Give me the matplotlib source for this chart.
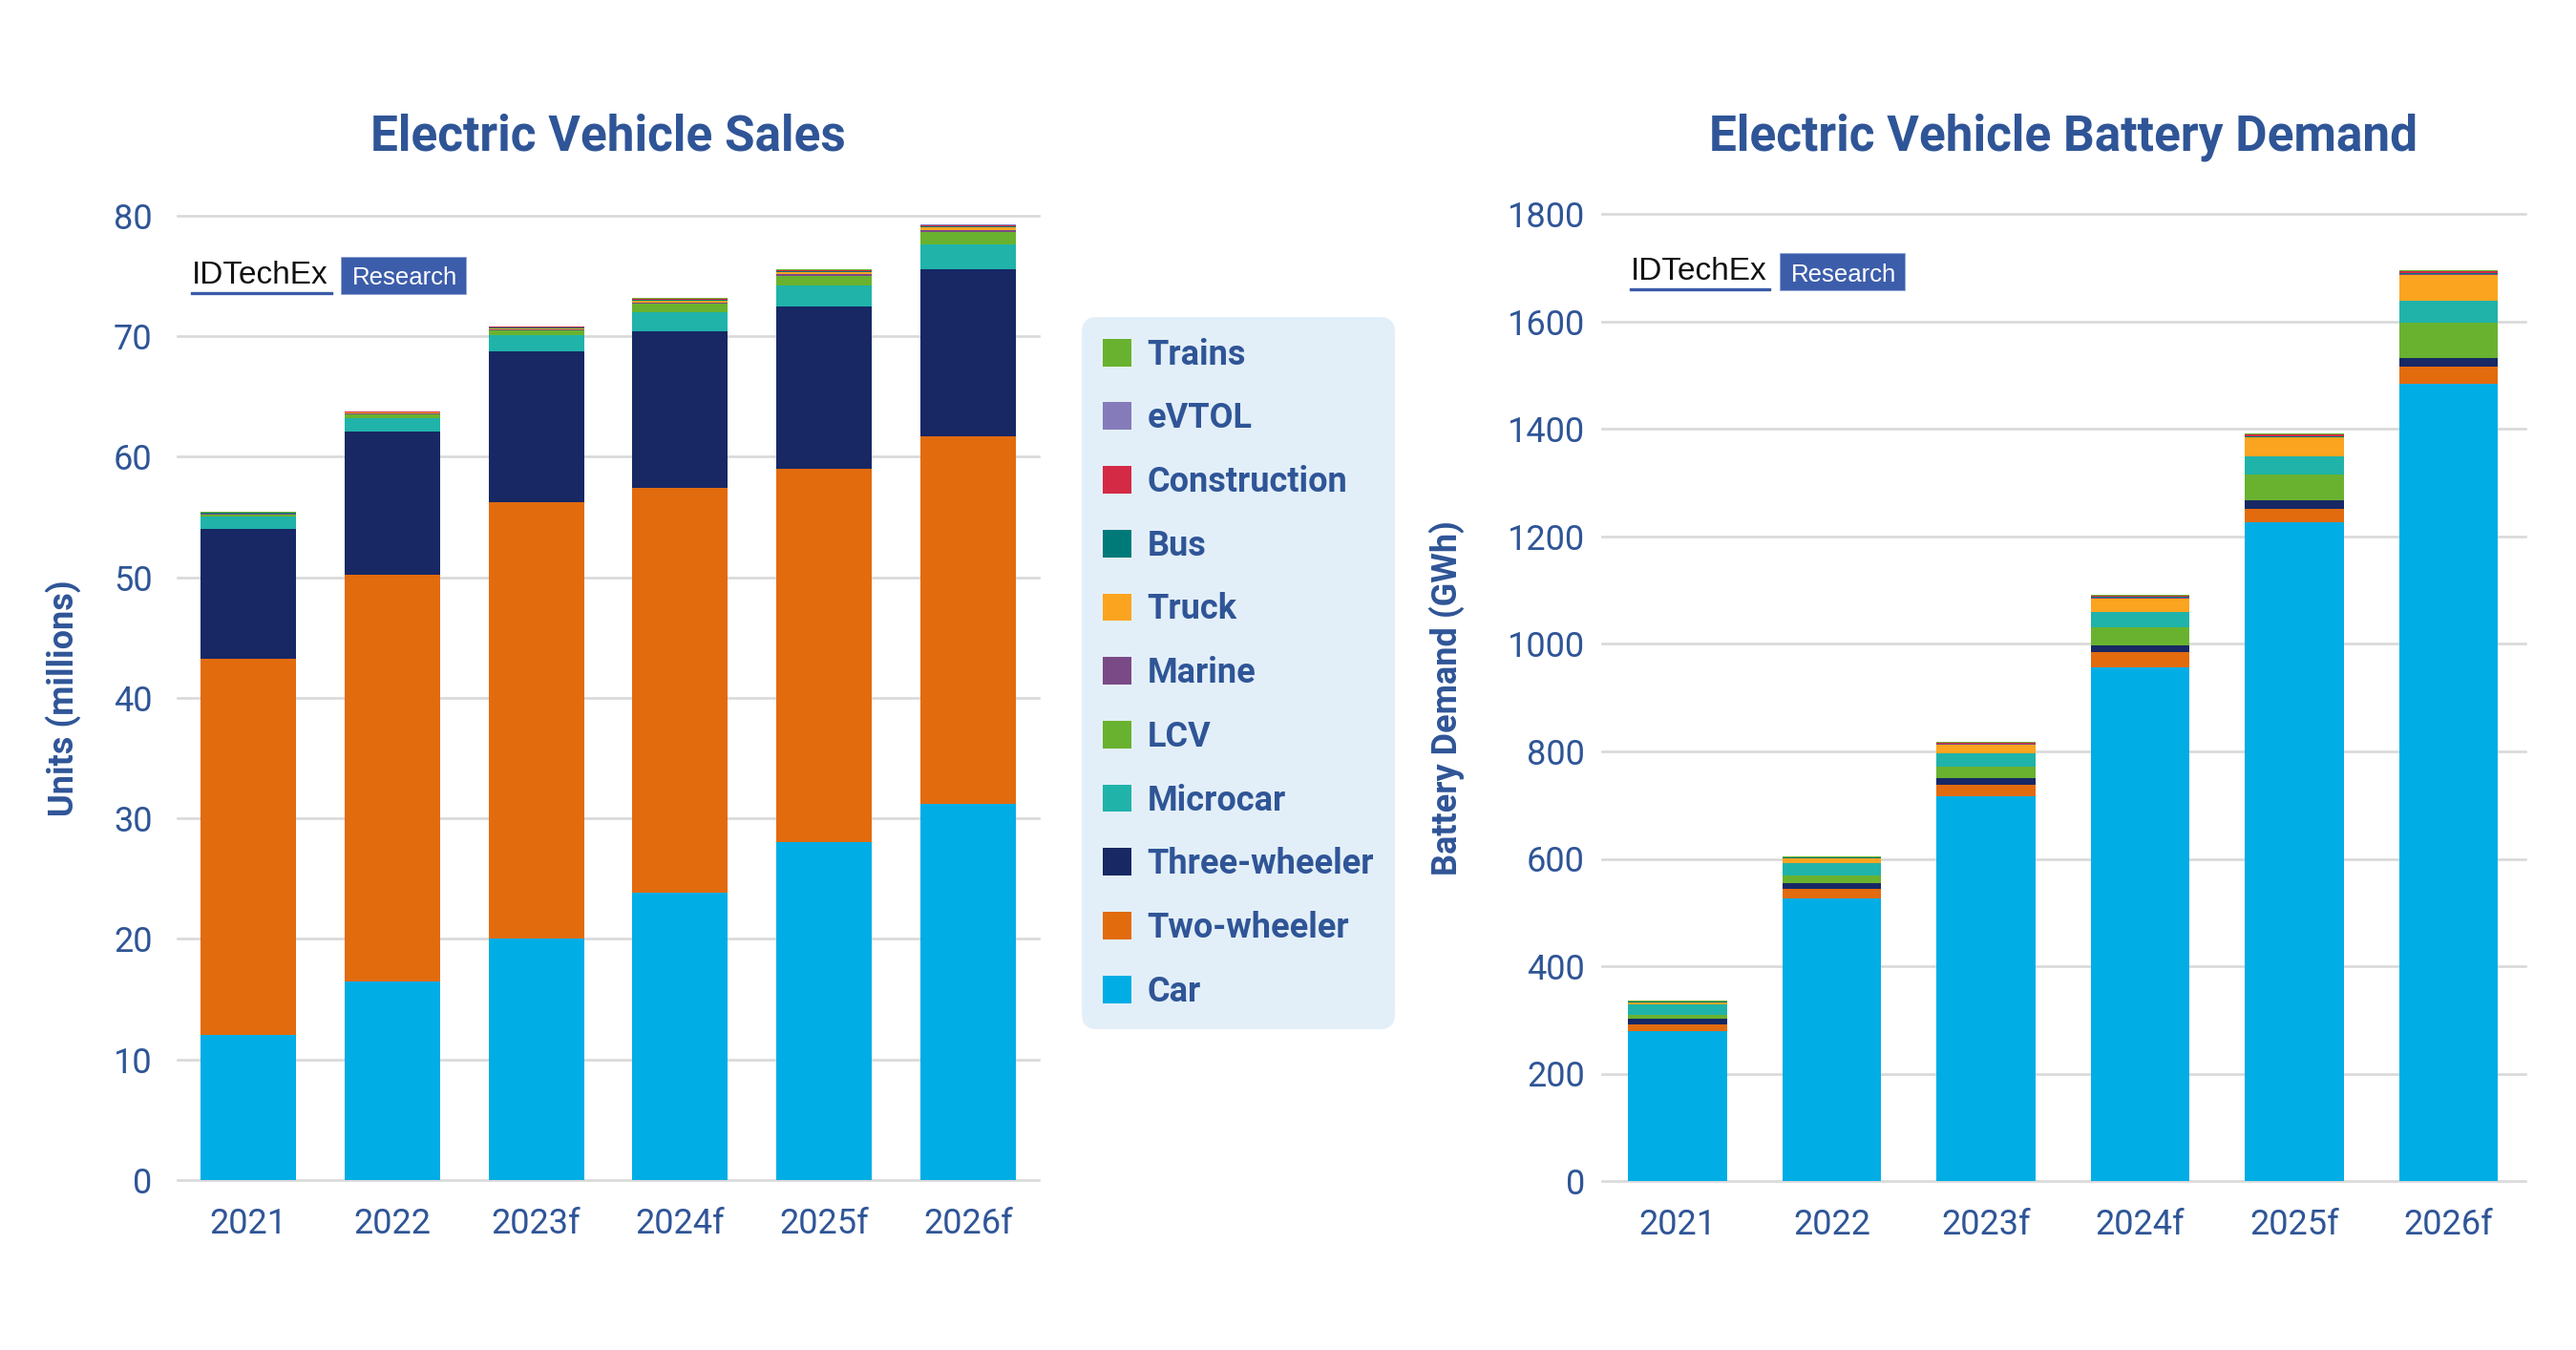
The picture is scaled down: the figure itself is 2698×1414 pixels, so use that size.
import matplotlib
matplotlib.use("Agg")
import matplotlib.pyplot as plt
import numpy as np
from matplotlib.patches import Rectangle
from matplotlib.lines import Line2D

# ---------------- data ----------------
years = ['2021', '2022', '2023f', '2024f', '2025f', '2026f']

# Electric Vehicle Sales (millions of units), bottom -> top
sales_car = [12.0, 16.5, 20.0, 23.8, 28.0, 31.2]
sales_two_wheeler = [31.2, 33.7, 36.2, 33.6, 31.0, 30.45]
sales_three_wheeler = [10.8, 11.9, 12.5, 13.0, 13.45, 13.9]
sales_microcar = [1.0, 1.1, 1.4, 1.6, 1.75, 2.05]
sales_lcv = [0.2, 0.3, 0.35, 0.7, 0.8, 1.05]
sales_marine = [0.05, 0.06, 0.08, 0.10, 0.12, 0.15]
sales_truck = [0.05, 0.08, 0.12, 0.15, 0.18, 0.22]
sales_bus = [0.05, 0.06, 0.07, 0.08, 0.09, 0.10]
sales_construction = [0.02, 0.03, 0.04, 0.05, 0.06, 0.07]
sales_evtol = [0.0, 0.0, 0.01, 0.02, 0.03, 0.05]
sales_trains = [0.03, 0.03, 0.03, 0.04, 0.04, 0.05]

# Electric Vehicle Battery Demand (GWh), bottom -> top
gwh_car = [280, 527, 716, 957, 1227, 1485]
gwh_two_wheeler = [12, 17, 22, 28, 24, 32]
gwh_three_wheeler = [10, 10, 11.5, 12, 16.5, 16]
gwh_lcv = [7.7, 15, 22.5, 34, 47.5, 65]
gwh_microcar = [19, 22.5, 25, 29, 34, 41]
gwh_truck = [3.5, 9.5, 16, 24, 35, 48]
gwh_marine = [0.5, 0.5, 0.8, 1.5, 1.5, 1.5]
gwh_bus = [1.0, 1.0, 1.2, 2.0, 2.0, 2.0]
gwh_construction = [0.8, 0.8, 1.2, 2.5, 2.5, 3.0]
gwh_evtol = [0.0, 0.0, 0.1, 0.3, 0.5, 0.8]
gwh_trains = [1.2, 1.2, 1.3, 1.7, 1.5, 1.7]

colors = {
    'Car': '#00ADE5',
    'Two-wheeler': '#E26B0E',
    'Three-wheeler': '#172864',
    'Microcar': '#20B3AA',
    'LCV': '#69B22F',
    'Marine': '#7A4A87',
    'Truck': '#FBA420',
    'Bus': '#007A79',
    'Construction': '#D42A46',
    'eVTOL': '#857BBB',
    'Trains': '#69B22F',
}

sales_series = [
    ('Car', sales_car), ('Two-wheeler', sales_two_wheeler),
    ('Three-wheeler', sales_three_wheeler), ('Microcar', sales_microcar),
    ('LCV', sales_lcv), ('Marine', sales_marine), ('Truck', sales_truck),
    ('Bus', sales_bus), ('Construction', sales_construction),
    ('eVTOL', sales_evtol), ('Trains', sales_trains),
]
gwh_series = [
    ('Car', gwh_car), ('Two-wheeler', gwh_two_wheeler),
    ('Three-wheeler', gwh_three_wheeler), ('LCV', gwh_lcv),
    ('Microcar', gwh_microcar), ('Truck', gwh_truck),
    ('Marine', gwh_marine), ('Bus', gwh_bus),
    ('Construction', gwh_construction), ('eVTOL', gwh_evtol),
    ('Trains', gwh_trains),
]

BLUE = '#2F5597'
GRID = '#D9D9D9'
plt.rcParams['font.family'] = ['Roboto', 'DejaVu Sans']

W, H = 2698, 1414
fig = plt.figure(figsize=(W / 100, H / 100), dpi=100)
fig.patch.set_facecolor('white')


def fx(px):
    return px / W


def fy(py):
    return 1 - py / H


ax1 = fig.add_axes([fx(186), fy(1236), (1088 - 186) / W, (1236 - 225.7) / H])
ax2 = fig.add_axes([fx(1678), fy(1237), (2645 - 1678) / W, (1237 - 224.5) / H])


def stacked(ax, series, width):
    x = np.arange(len(years))
    bottom = np.zeros(len(years))
    handles = {}
    for name, vals in series:
        v = np.array(vals, dtype=float)
        bc = ax.bar(x, v, width, bottom=bottom, color=colors[name],
                    edgecolor='none', zorder=3, label=name)
        handles[name] = bc
        bottom += v
    ax.set_xticks(x)
    ax.set_xticklabels(years)
    return handles


h1 = stacked(ax1, sales_series, 0.663)
stacked(ax2, gwh_series, 0.64)

ax1.set_xlim(-0.49, 5.49)
ax1.set_ylim(0, 80)
ax1.set_yticks(np.arange(0, 81, 10))
ax2.set_xlim(-0.49, 5.5)
ax2.set_ylim(0, 1800)
ax2.set_yticks(np.arange(0, 1801, 200))

for ax, ypad in ((ax1, 19), (ax2, 13)):
    for s in ax.spines.values():
        s.set_visible(False)
    ax.yaxis.grid(True, color=GRID, lw=1.9, zorder=0)
    ax.set_axisbelow(True)
    for gl in ax.get_ygridlines():
        gl.set_clip_on(False)
    ax.tick_params(axis='both', length=0, labelsize=26, labelcolor=BLUE)
    ax.tick_params(axis='y', pad=ypad)
    ax.tick_params(axis='x', pad=20)

ax1.set_ylabel('Units (millions)', fontsize=26, fontweight='bold', color=BLUE)
ax1.yaxis.set_label_coords(-0.112, 0.5)
ax2.set_ylabel('Battery Demand (GWh)', fontsize=26, fontweight='bold', color=BLUE)
ax2.yaxis.set_label_coords(-0.149, 0.5)

fig.text(fx(637), fy(144), 'Electric Vehicle Sales', fontsize=37,
         fontweight='bold', color=BLUE, ha='center', va='center')
fig.text(fx(2161), fy(144), 'Electric Vehicle Battery Demand', fontsize=37,
         fontweight='bold', color=BLUE, ha='center', va='center')


def logo(x0, base):
    fig.text(fx(x0), fy(base), 'IDTechEx', fontsize=24,
             family=['Liberation Sans', 'DejaVu Sans'], color='#111111',
             ha='left', va='baseline')
    fig.add_artist(Line2D([fx(x0), fx(x0 + 146)], [fy(base + 10)] * 2,
                          color='#3A5BA8', lw=2.4))
    fig.add_artist(Rectangle((fx(x0 + 156), fy(base + 11)), 131.5 / W, 39 / H,
                             facecolor='#3C5DAA', edgecolor='#8FA6D6', lw=0.6))
    fig.text(fx(x0 + 168.5), fy(base + 1.6), 'Research', fontsize=18.5,
             family=['Liberation Sans', 'DejaVu Sans'], color='white',
             ha='left', va='baseline')


logo(200.7, 296.7)
logo(1707.5, 293)

order = ['Trains', 'eVTOL', 'Construction', 'Bus', 'Truck', 'Marine', 'LCV',
         'Microcar', 'Three-wheeler', 'Two-wheeler', 'Car']
leg = fig.legend([h1[n] for n in order], order, loc='upper left',
                 bbox_to_anchor=(fx(1133), fy(332)), borderaxespad=0,
                 prop={'family': 'Roboto', 'weight': 'bold', 'size': 26},
                 labelcolor=BLUE, frameon=True, facecolor='#E3EFF8',
                 edgecolor='none', framealpha=1, fancybox=True,
                 borderpad=0.6, labelspacing=0.85, handlelength=0.85,
                 handleheight=0.85, handletextpad=0.45)
leg.get_frame().set_boxstyle('round,pad=0,rounding_size=0.45')

fig.savefig('out.png', dpi=100, facecolor='white')
